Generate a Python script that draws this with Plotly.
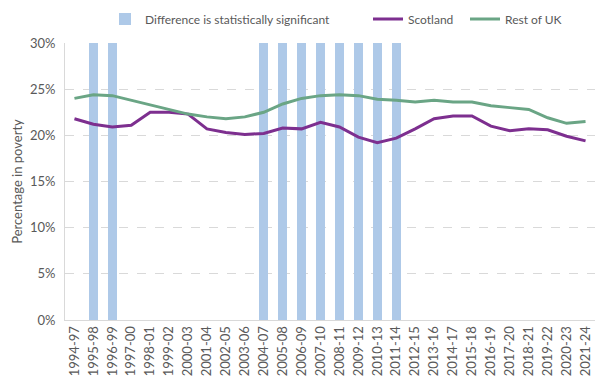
import plotly.graph_objects as go

categories = ["1994-97", "1995-98", "1996-99", "1997-00", "1998-01", "1999-02", "2000-03",
              "2001-04", "2002-05", "2003-06", "2004-07", "2005-08", "2006-09", "2007-10",
              "2008-11", "2009-12", "2010-13", "2011-14", "2012-15", "2013-16", "2014-17",
              "2015-18", "2016-19", "2017-20", "2018-21", "2019-22", "2020-23", "2021-24"]

scotland = [21.8, 21.2, 20.9, 21.1, 22.5, 22.5, 22.3, 20.7, 20.3, 20.1, 20.2, 20.8, 20.7,
            21.4, 20.9, 19.8, 19.2, 19.7, 20.7, 21.8, 22.1, 22.1, 21.0, 20.5, 20.7, 20.6,
            19.9, 19.4]

rest_of_uk = [24.0, 24.4, 24.3, 23.8, 23.3, 22.8, 22.3, 22.0, 21.8, 22.0, 22.5, 23.4, 24.0,
              24.3, 24.4, 24.3, 23.9, 23.8, 23.6, 23.8, 23.6, 23.6, 23.2, 23.0, 22.8, 21.9,
              21.3, 21.5]

significant = ["1995-98", "1996-99", "2004-07", "2005-08", "2006-09", "2007-10",
               "2008-11", "2009-12", "2010-13", "2011-14"]
sig_height = [30] * len(significant)

yticks = [0, 5, 10, 15, 20, 25, 30]
ytick_labels = ["0%", "5%", "10%", "15%", "20%", "25%", "30%"]

FONT = "Lato, 'Source Sans Pro', sans-serif"
TXT = "#595959"
W, H = 603, 389

fig = go.Figure()
fig.add_trace(go.Bar(x=significant, y=sig_height, name="Difference is statistically significant",
                     marker=dict(color="#aec9e8", line=dict(width=0)), width=0.47,
                     legend="legend"))
fig.add_trace(go.Scatter(x=categories, y=scotland, name="Scotland", mode="lines",
                         line=dict(color="#7d2f8f", width=3), legend="legend2"))
fig.add_trace(go.Scatter(x=categories, y=rest_of_uk, name="Rest of UK", mode="lines",
                         line=dict(color="#6aa585", width=3), legend="legend3"))


def leg(text_x):
    return dict(orientation="h", xref="container", yref="container",
                x=(text_x - 42) / W, xanchor="left", y=1 - 19 / H, yanchor="middle",
                font=dict(size=12, color=TXT), itemwidth=30, tracegroupgap=0,
                bgcolor="rgba(0,0,0,0)", borderwidth=0)


fig.update_layout(
    width=W, height=H,
    margin=dict(l=65, r=8, t=43, b=69),
    paper_bgcolor="white", plot_bgcolor="white",
    font=dict(family=FONT, size=13, color=TXT),
    showlegend=True,
    legend=leg(147), legend2=leg(410), legend3=leg(507),
    bargap=0,
)
fig.update_xaxes(type="category", categoryorder="array", categoryarray=categories,
                 tickangle=-90, showgrid=False, showline=True, linecolor="#d9d9d9",
                 linewidth=1, ticks="", tickfont=dict(size=13, color=TXT),
                 range=[-0.5, len(categories) - 0.5], automargin=False)
fig.update_yaxes(range=[0, 30], tickvals=yticks, ticktext=ytick_labels,
                 showgrid=True, gridcolor="#d9d9d9", griddash="dash", gridwidth=1,
                 showline=True, linecolor="#d9d9d9", linewidth=1, zeroline=False,
                 ticklabelstandoff=6,
                 title=dict(text="Percentage in poverty", font=dict(size=13, color=TXT), standoff=4),
                 tickfont=dict(size=13, color=TXT), ticks="", automargin=False)

fig.write_html("out.html", config={"displayModeBar": False},
               post_script="document.body.style.margin='0';")
